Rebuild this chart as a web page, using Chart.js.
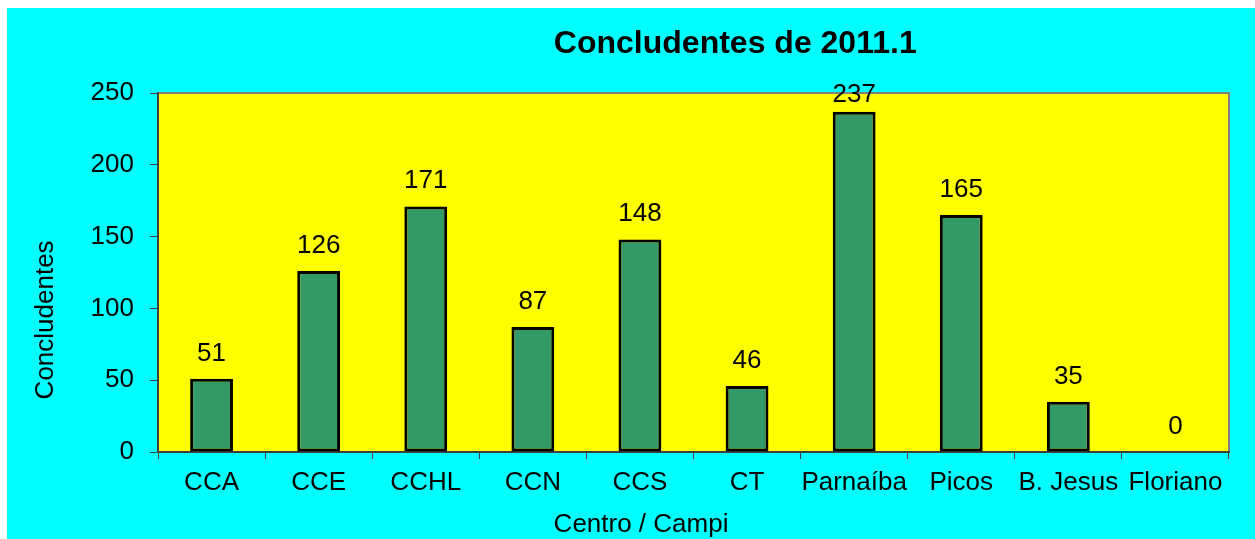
<!DOCTYPE html>
<html lang="pt">
<head>
<meta charset="UTF-8">
<title>Concludentes de 2011.1</title>
<script src="https://cdn.jsdelivr.net/npm/chart.js@4.4.1/dist/chart.umd.min.js"></script>
<style>
  html, body { margin: 0; padding: 0; background: #fff; }
  #box { position: absolute; left: 7px; top: 8px; width: 1248px; height: 531px; background: #00ffff; }
</style>
</head>
<body>
<div id="box"><canvas id="grafico"></canvas></div>
<script>
// dados do gráfico
const centros = ["CCA", "CCE", "CCHL", "CCN", "CCS", "CT", "Parnaíba", "Picos", "B. Jesus", "Floriano"];
const concludentes = [51, 126, 171, 87, 148, 46, 237, 165, 35, 0];
const ticksY = [0, 50, 100, 150, 200, 250];

const titulo = "Concludentes de 2011.1";
const tituloX = "Centro / Campi";
const tituloY = "Concludentes";

const FONTE = "'Liberation Sans', Arial, sans-serif";

// fundo amarelo da área de plotagem com borda cinza
const areaPlot = {
  id: "areaPlot",
  beforeDraw(chart) {
    const { ctx, chartArea: a } = chart;
    ctx.save();
    ctx.fillStyle = "#ffff00";
    ctx.fillRect(a.left, a.top, a.width, a.height);
    ctx.strokeStyle = "#808080";
    ctx.lineWidth = 2;
    ctx.strokeRect(a.left, a.top, a.width, a.height);
    ctx.restore();
  },
};

// rótulos de valor acima das barras
const rotulos = {
  id: "rotulos",
  afterDatasetsDraw(chart) {
    const { ctx, chartArea: a } = chart;
    ctx.save();
    ctx.fillStyle = "#000";
    ctx.font = `26px ${FONTE}`;
    ctx.textAlign = "center";
    ctx.textBaseline = "alphabetic";
    chart.data.datasets.forEach((ds, i) => {
      chart.getDatasetMeta(i).data.forEach((bar, j) => {
        const y = Math.max(bar.y - 18, a.top + 9);
        ctx.fillText(ds.data[j], bar.x, y);
      });
    });
    ctx.restore();
  },
};

// título e títulos dos eixos (posição igual ao Excel)
const textos = {
  id: "textos",
  afterDraw(chart) {
    const { ctx, chartArea: a } = chart;
    ctx.save();
    ctx.fillStyle = "#000";
    ctx.textAlign = "center";
    ctx.textBaseline = "alphabetic";
    ctx.font = `bold 32px ${FONTE}`;
    ctx.fillText(titulo, a.left + a.width * 0.539, a.top - 40);
    ctx.font = `26px ${FONTE}`;
    ctx.fillText(tituloX, a.left + a.width * 0.451, a.bottom + 80);
    ctx.translate(a.left - 105, a.top + a.height * 0.632);
    ctx.rotate(-Math.PI / 2);
    ctx.fillText(tituloY, 0, 0);
    ctx.restore();
  },
};

new Chart(document.getElementById("grafico"), {
  type: "bar",
  data: {
    labels: centros,
    datasets: [{
      label: "Concludentes",
      data: concludentes,
      backgroundColor: "#339966",
      borderColor: "#000",
      borderWidth: 3,
      borderSkipped: false,
      barPercentage: 0.4,
      categoryPercentage: 1,
    }],
  },
  options: {
    responsive: true,
    maintainAspectRatio: false,
    animation: false,
    devicePixelRatio: 1,
    layout: { padding: { top: 85, right: 26, left: 0, bottom: 0 } },
    plugins: {
      legend: { display: false },
      title: { display: false },
      tooltip: { enabled: false },
    },
    scales: {
      x: {
        offset: true,
        grid: { offset: true, drawOnChartArea: false, tickLength: 7, color: "#404040" },
        border: { color: "#404040", width: 2 },
        ticks: { color: "#000", font: { family: FONTE, size: 26 }, padding: 8, maxRotation: 0, autoSkip: false },
        afterFit(s) { s.height = 87; },
      },
      y: {
        min: 0,
        max: 250,
        grid: { drawOnChartArea: false, tickLength: 8, color: "#404040" },
        border: { color: "#404040", width: 2 },
        ticks: { color: "#000", font: { family: FONTE, size: 26 }, padding: 16 },
        afterBuildTicks(s) { s.ticks = ticksY.map(v => ({ value: v })); },
        afterFit(s) { s.width = 151; },
      },
    },
  },
  plugins: [areaPlot, rotulos, textos],
});
</script>
</body>
</html>
